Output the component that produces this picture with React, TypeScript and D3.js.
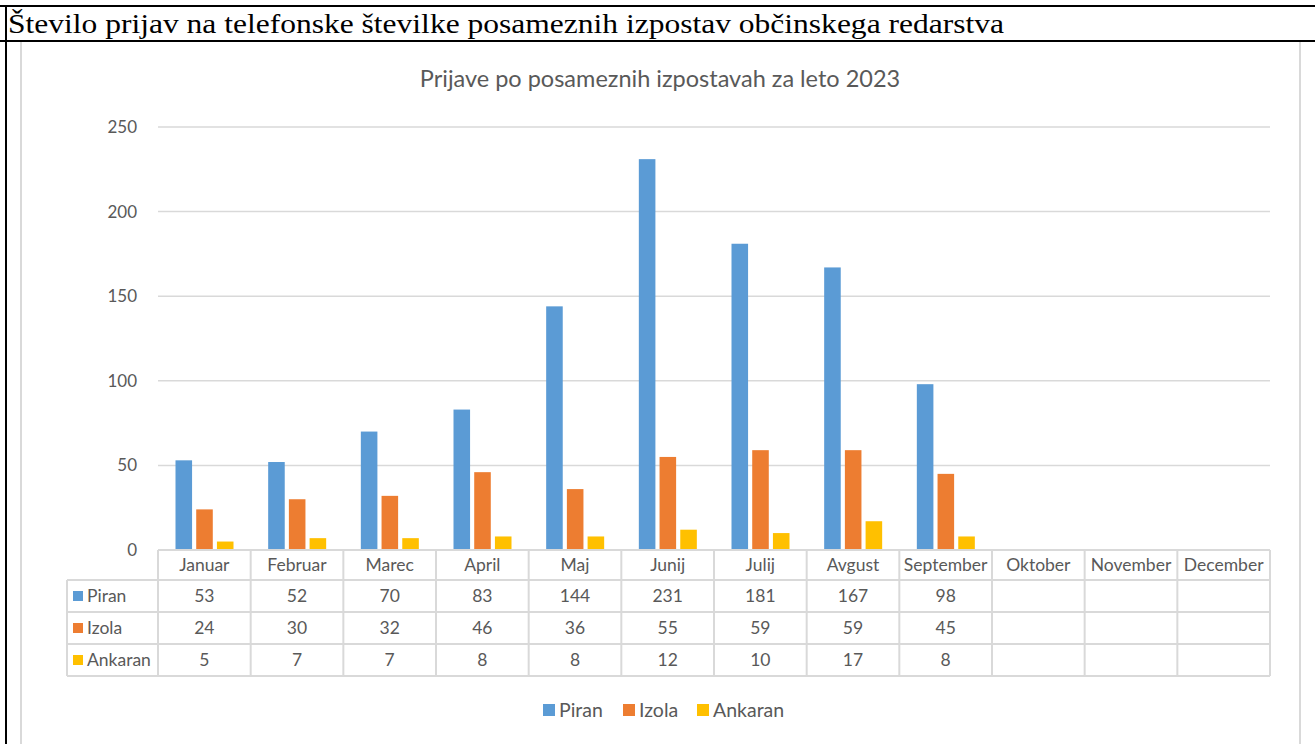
import React from "react";
import * as d3 from "d3";

const months = ["Januar","Februar","Marec","April","Maj","Junij","Julij","Avgust","September","Oktober","November","December"];
const seriesNames = ["Piran","Izola","Ankaran"];
const piran = [53,52,70,83,144,231,181,167,98,null,null,null];
const izola = [24,30,32,46,36,55,59,59,45,null,null,null];
const ankaran = [5,7,7,8,8,12,10,17,8,null,null,null];
const colors = ["#5B9BD5","#ED7D31","#FFC000"];
const yTicks = [0,50,100,150,200,250];
const chartTitle = "Prijave po posameznih izpostavah za leto 2023";
const pageTitle = "Število prijav na telefonske številke posameznih izpostav občinskega redarstva";

const W = 1315, H = 744;
const FONT = "Lato, 'Open Sans', sans-serif";

export default function App() {
  const values = [piran, izola, ankaran];
  const left = 158, right = 1270, top = 127, bottom = 550;
  const x0 = d3.scaleBand<string>().domain(months).range([left, right]).padding(0);
  const x1 = d3.scaleBand<string>().domain(seriesNames).range([17.5, 75.5]).paddingInner(0.2);
  const y = d3.scaleLinear().domain([0, 250]).range([bottom, top]);
  const grid = "#d9d9d9";
  const txt = "#595959";
  const rowTops = [550, 580, 612, 644, 676];
  const tableLeft = 67;

  return (
    <svg width={W} height={H} style={{ position: "absolute", left: 0, top: 0, background: "#fff" }}>
      <rect x={0} y={0} width={W} height={H} fill="#fff" />
      {/* page frame */}
      <line x1={0} x2={W} y1={6} y2={6} stroke="#000" strokeWidth={2} />
      <line x1={0} x2={W} y1={41} y2={41} stroke="#000" strokeWidth={2} />
      <line x1={6} x2={6} y1={5} y2={H} stroke="#000" strokeWidth={2} />
      <text x={8} y={33} fontFamily="'Liberation Serif', serif" fontSize={27} fill="#000" textLength={996} lengthAdjust="spacingAndGlyphs">{pageTitle}</text>
      {/* chart border */}
      <line x1={21} x2={21} y1={42} y2={H} stroke={grid} strokeWidth={2} />
      <line x1={1300} x2={1300} y1={42} y2={H} stroke={grid} strokeWidth={2} />
      <text x={660} y={87} textAnchor="middle" fontFamily={FONT} fontSize={23.5} fill={txt}>{chartTitle}</text>
      {/* gridlines */}
      {yTicks.map((t) => (
        <g key={t}>
          {t > 0 && <line x1={left} x2={right} y1={y(t)} y2={y(t)} stroke={grid} strokeWidth={1.5} />}
          <text x={137} y={y(t) + 6} textAnchor="end" fontFamily={FONT} fontSize={17} fill={txt}>{t}</text>
        </g>
      ))}
      {/* bars */}
      {months.map((m, i) => (
        <g key={m}>
          {seriesNames.map((s, j) => {
            const v = values[j][i];
            if (v == null) return null;
            return (
              <rect key={s} x={(x0(m) as number) + (x1(s) as number)} y={y(v)} width={x1.bandwidth()} height={bottom - y(v)} fill={colors[j]} />
            );
          })}
        </g>
      ))}
      {/* table */}
      <g stroke={grid} strokeWidth={2}>
        <line x1={left} x2={right} y1={rowTops[0]} y2={rowTops[0]} />
        {rowTops.slice(1).map((r) => (
          <line key={r} x1={tableLeft} x2={right} y1={r} y2={r} />
        ))}
        <line x1={tableLeft} x2={tableLeft} y1={rowTops[1]} y2={rowTops[4]} />
        {months.map((m) => (
          <line key={m} x1={x0(m) as number} x2={x0(m) as number} y1={rowTops[0]} y2={rowTops[4]} />
        ))}
        <line x1={right} x2={right} y1={rowTops[0]} y2={rowTops[4]} />
      </g>
      {months.map((m) => (
        <text key={m} x={(x0(m) as number) + x0.bandwidth() / 2} y={571} textAnchor="middle" fontFamily={FONT} fontSize={17.5} fill={txt}>{m}</text>
      ))}
      {seriesNames.map((s, j) => {
        const cy = (rowTops[j + 1] + rowTops[j + 2]) / 2;
        return (
          <g key={s}>
            <rect x={73} y={cy - 5} width={10} height={10} fill={colors[j]} />
            <text x={87} y={cy + 6} fontFamily={FONT} fontSize={17.5} fill={txt}>{s}</text>
            {months.map((m, i) => {
              const v = values[j][i];
              if (v == null) return null;
              return (
                <text key={m} x={(x0(m) as number) + x0.bandwidth() / 2} y={cy + 6} textAnchor="middle" fontFamily={FONT} fontSize={17.5} fill={txt}>{v}</text>
              );
            })}
          </g>
        );
      })}
      {/* legend */}
      {seriesNames.map((s, j) => {
        const lx = [543, 623, 697][j];
        return (
          <g key={s}>
            <rect x={lx} y={704} width={12} height={12} fill={colors[j]} />
            <text x={lx + 16} y={717} fontFamily={FONT} fontSize={19.5} fill={txt}>{s}</text>
          </g>
        );
      })}
    </svg>
  );
}
